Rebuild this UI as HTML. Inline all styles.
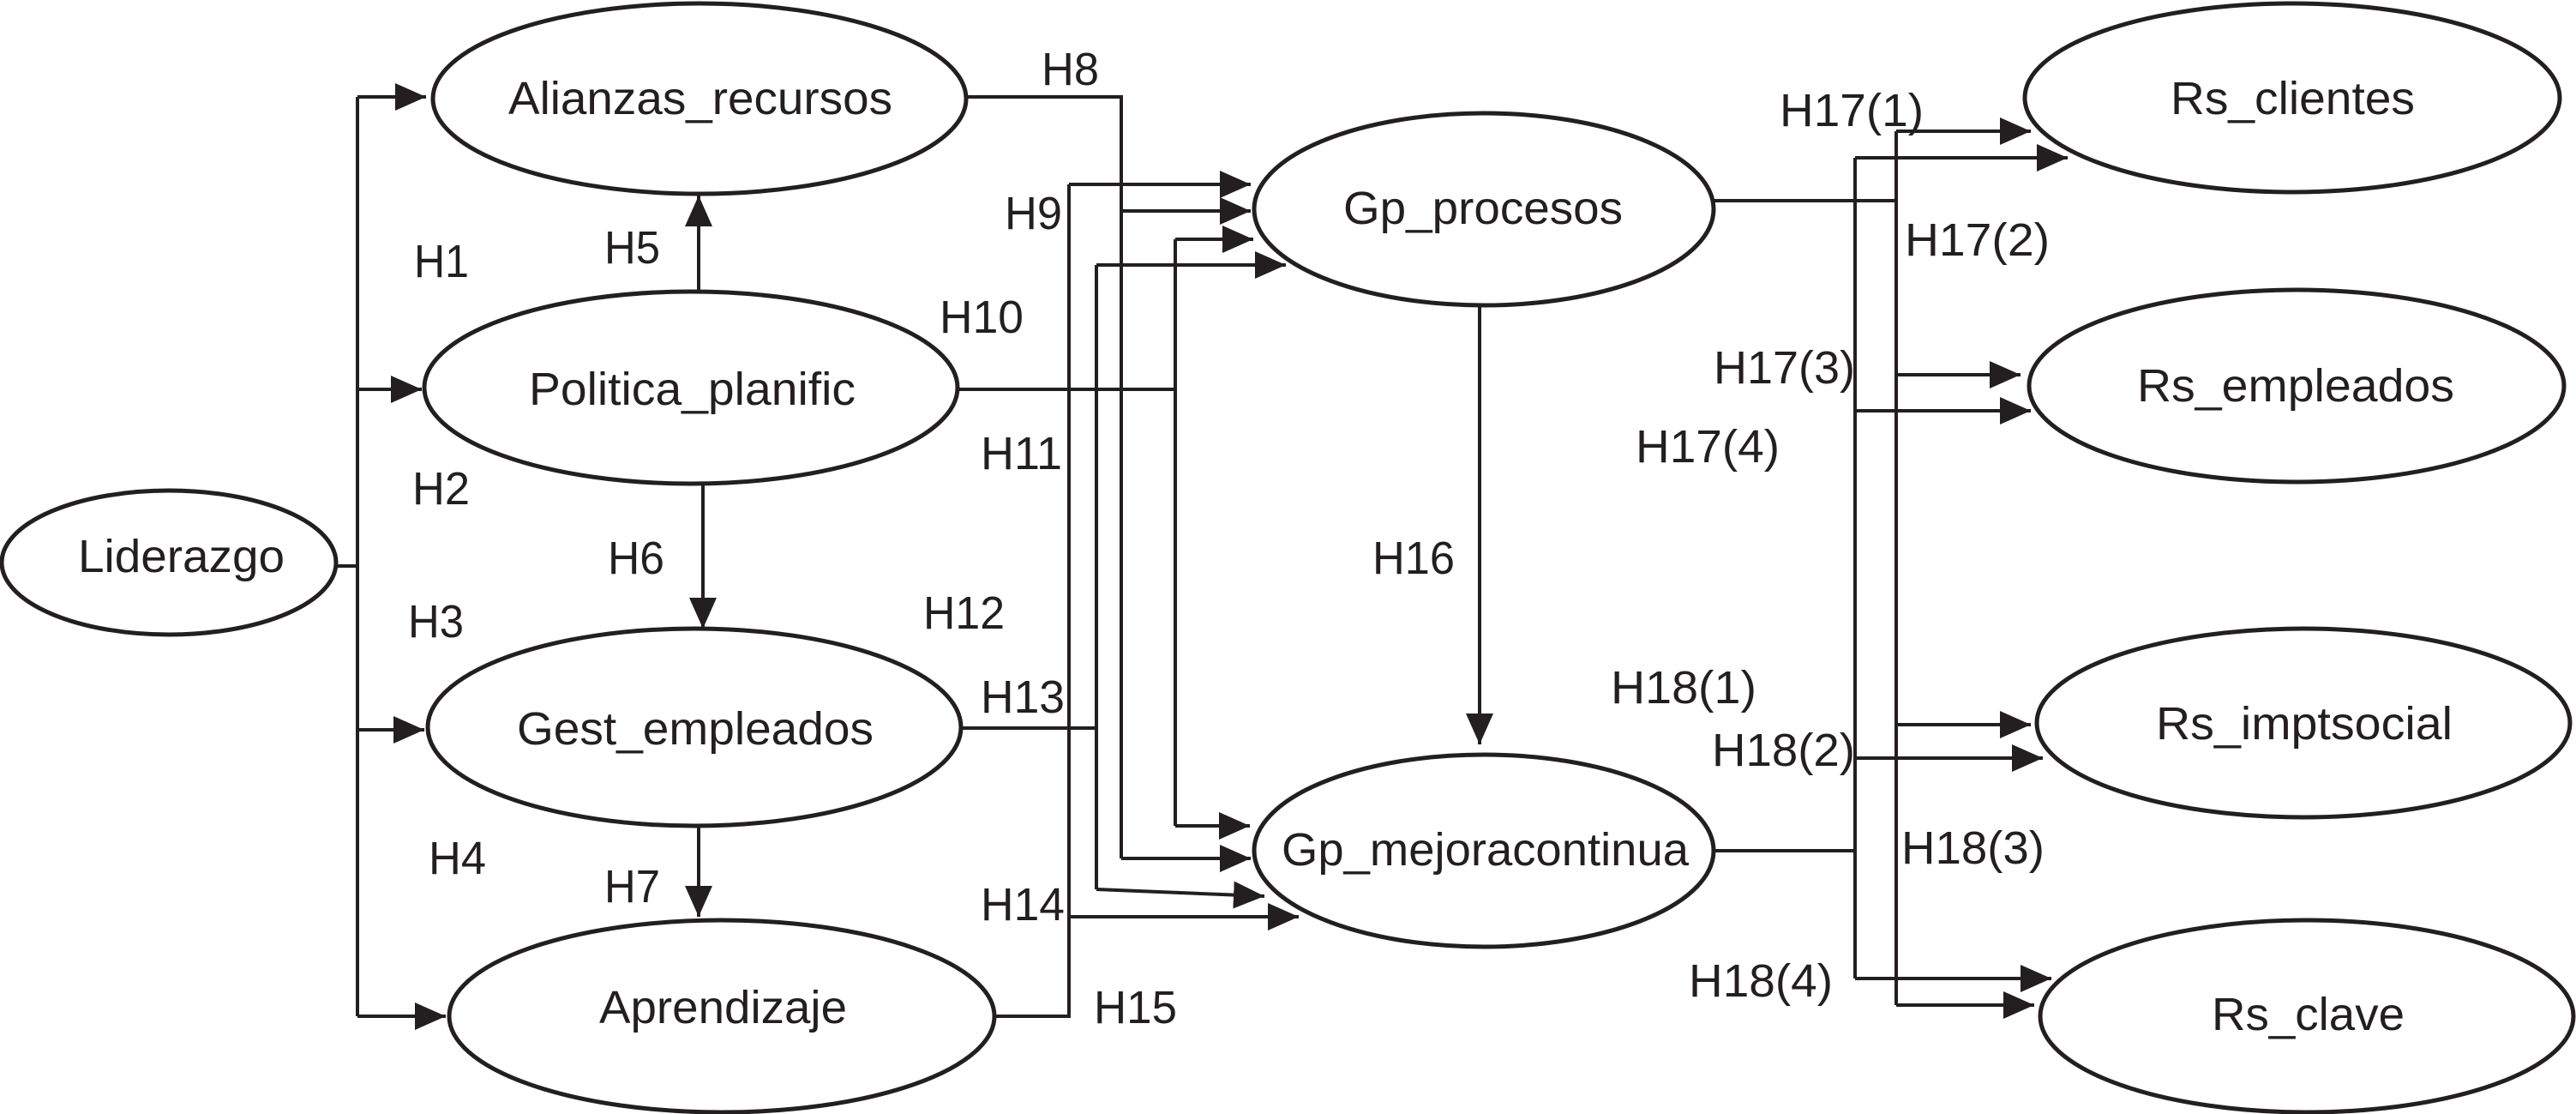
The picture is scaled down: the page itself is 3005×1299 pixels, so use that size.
<!DOCTYPE html>
<html><head><meta charset="utf-8"><style>
html,body{margin:0;padding:0;background:#fff;}
svg{display:block;}
text{font-family:"Liberation Sans",sans-serif;font-size:54px;fill:#231f20;}
</style></head><body>
<svg width="3005" height="1299" viewBox="0 0 3005 1299" xmlns="http://www.w3.org/2000/svg">
<defs>
<marker id="a" markerUnits="userSpaceOnUse" markerWidth="40" markerHeight="36" refX="36" refY="16" orient="auto">
<path d="M0,0 L36,16 L0,32 Z" fill="#231f20"/>
</marker>
</defs>
<g fill="none" stroke="#231f20" stroke-width="5">
<ellipse cx="197" cy="656" rx="195" ry="84"/>
<ellipse cx="816" cy="115" rx="311" ry="111"/>
<ellipse cx="806" cy="452" rx="311" ry="112"/>
<ellipse cx="810" cy="848" rx="311" ry="115"/>
<ellipse cx="842" cy="1185" rx="318" ry="112"/>
<ellipse cx="1731" cy="244" rx="268" ry="112"/>
<ellipse cx="1731" cy="992" rx="268" ry="112"/>
<ellipse cx="2674" cy="114" rx="312" ry="110"/>
<ellipse cx="2679" cy="450" rx="312" ry="112"/>
<ellipse cx="2687" cy="843" rx="311" ry="110"/>
<ellipse cx="2691" cy="1185" rx="311" ry="112"/>
</g>
<g fill="none" stroke="#231f20" stroke-width="4">
<line x1="392" y1="660" x2="417" y2="660"/>
<line x1="417" y1="113" x2="417" y2="1185"/>
<line x1="417" y1="113" x2="497" y2="113" marker-end="url(#a)"/>
<line x1="417" y1="454" x2="492" y2="454" marker-end="url(#a)"/>
<line x1="417" y1="851" x2="495" y2="851" marker-end="url(#a)"/>
<line x1="417" y1="1185" x2="520" y2="1185" marker-end="url(#a)"/>
<line x1="815" y1="340" x2="815" y2="228" marker-end="url(#a)"/>
<line x1="820" y1="563" x2="820" y2="733" marker-end="url(#a)"/>
<line x1="815" y1="964" x2="815" y2="1069" marker-end="url(#a)"/>
<polyline points="1127,113 1308,113 1308,1001"/>
<line x1="1308" y1="246" x2="1459" y2="246" marker-end="url(#a)"/>
<line x1="1308" y1="1001" x2="1459" y2="1001" marker-end="url(#a)"/>
<line x1="1117" y1="454" x2="1371" y2="454"/>
<line x1="1371" y1="279" x2="1371" y2="963"/>
<line x1="1371" y1="279" x2="1462" y2="279" marker-end="url(#a)"/>
<line x1="1371" y1="963" x2="1458" y2="963" marker-end="url(#a)"/>
<line x1="1121" y1="849" x2="1279" y2="849"/>
<line x1="1279" y1="309" x2="1279" y2="1037"/>
<line x1="1279" y1="309" x2="1500" y2="309" marker-end="url(#a)"/>
<line x1="1279" y1="1037" x2="1475" y2="1045" marker-end="url(#a)"/>
<polyline points="1160,1185 1247,1185 1247,215"/>
<line x1="1247" y1="215" x2="1459" y2="215" marker-end="url(#a)"/>
<line x1="1247" y1="1069" x2="1515" y2="1069" marker-end="url(#a)"/>
<line x1="1726" y1="356" x2="1726" y2="868" marker-end="url(#a)"/>
<line x1="1999" y1="234" x2="2212" y2="234"/>
<line x1="2212" y1="153" x2="2212" y2="1172"/>
<line x1="2212" y1="153" x2="2369" y2="153" marker-end="url(#a)"/>
<line x1="2212" y1="437" x2="2357" y2="437" marker-end="url(#a)"/>
<line x1="2212" y1="845" x2="2369" y2="845" marker-end="url(#a)"/>
<line x1="2212" y1="1172" x2="2373" y2="1172" marker-end="url(#a)"/>
<line x1="1999" y1="992" x2="2164" y2="992"/>
<line x1="2164" y1="184" x2="2164" y2="1141"/>
<line x1="2164" y1="184" x2="2412" y2="184" marker-end="url(#a)"/>
<line x1="2164" y1="479" x2="2369" y2="479" marker-end="url(#a)"/>
<line x1="2164" y1="884" x2="2383" y2="884" marker-end="url(#a)"/>
<line x1="2164" y1="1141" x2="2393" y2="1141" marker-end="url(#a)"/>
</g>
<g>
<text x="91" y="667" textLength="241" lengthAdjust="spacingAndGlyphs">Liderazgo</text>
<text x="593" y="133" textLength="448" lengthAdjust="spacingAndGlyphs">Alianzas_recursos</text>
<text x="617" y="472" textLength="381" lengthAdjust="spacingAndGlyphs">Politica_planific</text>
<text x="603" y="868" textLength="416" lengthAdjust="spacingAndGlyphs">Gest_empleados</text>
<text x="699" y="1193" textLength="289" lengthAdjust="spacingAndGlyphs">Aprendizaje</text>
<text x="1567" y="261" textLength="326" lengthAdjust="spacingAndGlyphs">Gp_procesos</text>
<text x="1495" y="1009" textLength="475" lengthAdjust="spacingAndGlyphs">Gp_mejoracontinua</text>
<text x="2532" y="133" textLength="285" lengthAdjust="spacingAndGlyphs">Rs_clientes</text>
<text x="2493" y="468" textLength="370" lengthAdjust="spacingAndGlyphs">Rs_empleados</text>
<text x="2515" y="862" textLength="346" lengthAdjust="spacingAndGlyphs">Rs_imptsocial</text>
<text x="2580" y="1201" textLength="225" lengthAdjust="spacingAndGlyphs">Rs_clave</text>
<text x="483" y="323" textLength="64" lengthAdjust="spacingAndGlyphs">H1</text>
<text x="481" y="588" textLength="67" lengthAdjust="spacingAndGlyphs">H2</text>
<text x="476" y="743" textLength="65" lengthAdjust="spacingAndGlyphs">H3</text>
<text x="500" y="1019" textLength="67" lengthAdjust="spacingAndGlyphs">H4</text>
<text x="705" y="307" textLength="65" lengthAdjust="spacingAndGlyphs">H5</text>
<text x="709" y="669" textLength="66" lengthAdjust="spacingAndGlyphs">H6</text>
<text x="705" y="1052" textLength="65" lengthAdjust="spacingAndGlyphs">H7</text>
<text x="1215" y="99" textLength="67" lengthAdjust="spacingAndGlyphs">H8</text>
<text x="1172" y="267" textLength="67" lengthAdjust="spacingAndGlyphs">H9</text>
<text x="1096" y="388" textLength="98" lengthAdjust="spacingAndGlyphs">H10</text>
<text x="1144" y="547" textLength="95" lengthAdjust="spacingAndGlyphs">H11</text>
<text x="1077" y="733" textLength="95" lengthAdjust="spacingAndGlyphs">H12</text>
<text x="1144" y="831" textLength="98" lengthAdjust="spacingAndGlyphs">H13</text>
<text x="1144" y="1073" textLength="98" lengthAdjust="spacingAndGlyphs">H14</text>
<text x="1276" y="1193" textLength="97" lengthAdjust="spacingAndGlyphs">H15</text>
<text x="1601" y="669" textLength="96" lengthAdjust="spacingAndGlyphs">H16</text>
<text x="2076" y="147" textLength="168" lengthAdjust="spacingAndGlyphs">H17(1)</text>
<text x="2222" y="298" textLength="169" lengthAdjust="spacingAndGlyphs">H17(2)</text>
<text x="1999" y="447" textLength="165" lengthAdjust="spacingAndGlyphs">H17(3)</text>
<text x="1908" y="539" textLength="168" lengthAdjust="spacingAndGlyphs">H17(4)</text>
<text x="1879" y="820" textLength="170" lengthAdjust="spacingAndGlyphs">H18(1)</text>
<text x="1997" y="893" textLength="167" lengthAdjust="spacingAndGlyphs">H18(2)</text>
<text x="2218" y="1007" textLength="167" lengthAdjust="spacingAndGlyphs">H18(3)</text>
<text x="1970" y="1162" textLength="168" lengthAdjust="spacingAndGlyphs">H18(4)</text>
</g>
</svg>
</body></html>
